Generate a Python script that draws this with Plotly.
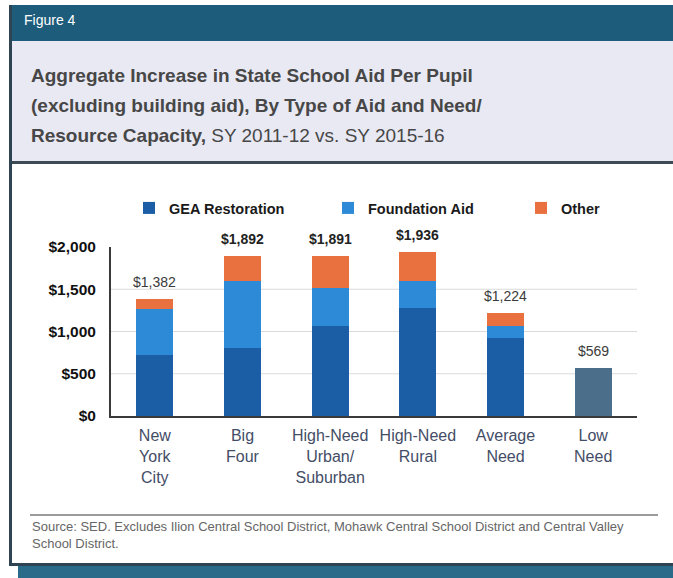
import plotly.graph_objects as go

categories = ["New<br>York<br>City", "Big<br>Four", "High-Need<br>Urban/<br>Suburban",
              "High-Need<br>Rural", "Average<br>Need", "Low<br>Need"]
gea = [720, 800, 1060, 1280, 920, 569]
foundation = [545, 800, 460, 320, 140, 0]
other = [117, 292, 371, 336, 164, 0]
totals = [1382, 1892, 1891, 1936, 1224, 569]
total_labels = ["$1,382", "$1,892", "$1,891", "$1,936", "$1,224", "$569"]
y_ticks = [0, 500, 1000, 1500, 2000]
y_ticktext = ["$0", "$500", "$1,000", "$1,500", "$2,000"]

W, H = 673, 578
L, R, T, B = 111, 36, 247, 162
PW, PH = W - L - R, H - T - B


def X(px):
    return (px - L) / PW


def Y(py):
    return (H - B - py) / PH


gea_colors = ["#1b5ea6"] * 5 + ["#4b6e8b"]

fig = go.Figure()
fig.add_trace(go.Bar(x=categories, y=gea, name="GEA Restoration", legend="legend",
                     marker=dict(color=gea_colors, line=dict(width=0))))
fig.add_trace(go.Bar(x=categories, y=foundation, name="Foundation Aid", legend="legend2",
                     marker=dict(color="#2d8ad6", line=dict(width=0))))
fig.add_trace(go.Bar(x=categories, y=other, name="Other", legend="legend3",
                     marker=dict(color="#e9703f", line=dict(width=0))))

shapes = []
# header band
shapes.append(dict(type="rect", xref="paper", yref="paper", x0=X(10), x1=X(673), y0=Y(5), y1=Y(41),
                   fillcolor="#1d5c7b", line=dict(width=0), layer="below"))
# title box
shapes.append(dict(type="rect", xref="paper", yref="paper", x0=X(10), x1=X(673), y0=Y(41), y1=Y(161),
                   fillcolor="#e9e9f3", line=dict(width=0), layer="below"))
# title bottom line
shapes.append(dict(type="rect", xref="paper", yref="paper", x0=X(10), x1=X(673), y0=Y(161), y1=Y(164),
                   fillcolor="#3b4a55", line=dict(width=0), layer="below"))
# left border
shapes.append(dict(type="rect", xref="paper", yref="paper", x0=X(9), x1=X(12), y0=Y(5), y1=Y(566),
                   fillcolor="#2e4452", line=dict(width=0), layer="below"))
# bottom border + shadow
shapes.append(dict(type="rect", xref="paper", yref="paper", x0=X(9), x1=X(673), y0=Y(563), y1=Y(566),
                   fillcolor="#2e4452", line=dict(width=0), layer="below"))
shapes.append(dict(type="rect", xref="paper", yref="paper", x0=X(18), x1=X(673), y0=Y(566), y1=Y(578),
                   fillcolor="#2b6b8a", line=dict(width=0), layer="below"))
# source separator
shapes.append(dict(type="line", xref="paper", yref="paper", x0=X(30), x1=X(658), y0=Y(515), y1=Y(515),
                   line=dict(color="#7a7a7a", width=1.5)))
# gridlines
for v in y_ticks[1:-1]:
    shapes.append(dict(type="line", xref="paper", yref="y", x0=0, x1=1, y0=v, y1=v,
                       line=dict(color="#dadada", width=1), layer="below"))

annotations = []
annotations.append(dict(text="Figure 4", xref="paper", yref="paper", x=X(22), y=Y(20),
                        xanchor="left", yanchor="middle", showarrow=False,
                        font=dict(family="Liberation Sans Narrow, Liberation Sans", size=14, color="white")))
title_lines = ["<b>Aggregate Increase in State School Aid Per Pupil</b>",
               "<b>(excluding building aid), By Type of Aid and Need/</b>",
               "<b>Resource Capacity,</b> SY 2011-12 vs. SY 2015-16"]
for i, (line, py) in enumerate(zip(title_lines, [75, 105, 135])):
    annotations.append(dict(text=line, xref="paper", yref="paper", x=X(29), y=Y(py),
                            xanchor="left", yanchor="middle", showarrow=False,
                            font=dict(family="Liberation Sans", size=19, color="#474747")))

for i, (c, t, lab) in enumerate(zip(categories, totals, total_labels)):
    bold = i in (1, 2, 3)
    annotations.append(dict(text=f"<b>{lab}</b>" if bold else lab, x=c, y=t, xref="x", yref="y",
                            yanchor="bottom", yshift=7, showarrow=False,
                            font=dict(family="Liberation Sans Narrow, Liberation Sans", size=14,
                                      color="#222" if bold else "#3a3a3a")))

annotations.append(dict(text="Source: SED. Excludes Ilion Central School District, Mohawk Central School District and Central Valley<br>School District.",
                        xref="paper", yref="paper", x=X(30), y=Y(517), xanchor="left", yanchor="top",
                        align="left", showarrow=False,
                        font=dict(family="Liberation Sans", size=13, color="#666666")))

legend_font = dict(family="Liberation Sans Narrow, Liberation Sans", size=14.5, color="#1a1a1a", weight="bold")
legend_common = dict(orientation="h", y=Y(208), xanchor="left", yanchor="middle",
                     bgcolor="rgba(0,0,0,0)", font=legend_font)

fig.update_layout(
    width=W, height=H,
    margin=dict(l=L, r=R, t=T, b=B, pad=0),
    paper_bgcolor="white", plot_bgcolor="white",
    barmode="stack", bargap=0.58,
    showlegend=True,
    legend=dict(x=X(129), **legend_common),
    legend2=dict(x=X(328), **legend_common),
    legend3=dict(x=X(521), **legend_common),
    shapes=shapes,
    annotations=annotations,
    xaxis=dict(showgrid=False, showline=True, linecolor="#3a3a3a", linewidth=2,
               ticks="outside", ticklen=4, tickcolor="rgba(0,0,0,0)",
               tickfont=dict(family="Liberation Sans Narrow, Liberation Sans", size=16, color="#444d66"),
               fixedrange=True),
    yaxis=dict(range=[0, 2000], tickvals=y_ticks, ticktext=y_ticktext, showgrid=False,
               showline=True, linecolor="#3a3a3a", linewidth=2, zeroline=False,
               ticks="outside", ticklen=10, tickcolor="rgba(0,0,0,0)",
               tickfont=dict(family="Liberation Sans Narrow, Liberation Sans", size=15.5, color="#111", weight="bold"),
               fixedrange=True),
)

fig.write_html("out.html", config={"displayModeBar": False},
               post_script="document.body.style.margin='0px';document.body.style.overflow='hidden';")
